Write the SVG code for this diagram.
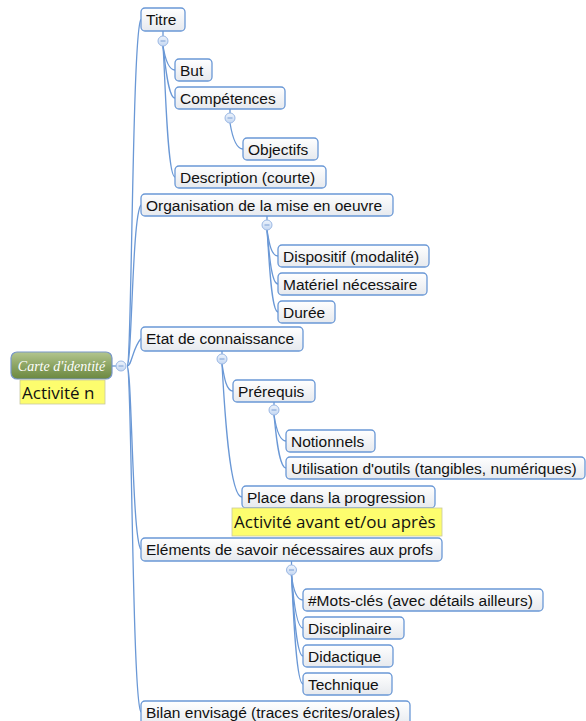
<svg xmlns="http://www.w3.org/2000/svg" width="586" height="721" viewBox="0 0 586 721">
<defs>
<linearGradient id="bg" x1="0" y1="0" x2="0" y2="1"><stop offset="0" stop-color="#ffffff"/><stop offset="1" stop-color="#e6e9ee"/></linearGradient>
<linearGradient id="gg" x1="0" y1="0" x2="0" y2="1"><stop offset="0" stop-color="#b3c68f"/><stop offset="0.5" stop-color="#8ca463"/><stop offset="1" stop-color="#6c8840"/></linearGradient>
<linearGradient id="cg" x1="0" y1="0" x2="0" y2="1"><stop offset="0" stop-color="#eef4fc"/><stop offset="1" stop-color="#c4d7f2"/></linearGradient>
</defs>
<style>
.n rect{fill:url(#bg);stroke:#6a98d6;stroke-width:1.3}
.n text{font-family:"Liberation Sans",Arial,sans-serif;font-size:15.5px;fill:#111}
.c{fill:none;stroke:#6a98d6;stroke-width:1.3}
.k circle{fill:url(#cg);stroke:#9bb8e4;stroke-width:1}
.k line{stroke:#7d9fd4;stroke-width:1}
.y rect{fill:#fdfd6e;stroke:#c9c9a0;stroke-width:0.8}
.y text{font-family:"Open Sans","Liberation Sans",sans-serif;font-size:17px;fill:#111}
</style>
<rect width="586" height="721" fill="#ffffff"/>
<g id="connectors">
<path class="c" d="M127,366 C132,366 132,30 141,19.5"/>
<path class="c" d="M127,366 C132,366 132,215 141,205"/>
<path class="c" d="M127,366 C132,366 132,349 141,338.5"/>
<path class="c" d="M127,366 C132,366 132,540 141,549.5"/>
<path class="c" d="M127,366 C132,366 132,702 141,712"/>
<line class="c" x1="163" y1="31" x2="163" y2="36"/>
<path class="c" d="M163,46 C165,58 168,70 175,70"/>
<path class="c" d="M163,46 C165,62 168,98 175,98"/>
<path class="c" d="M163,46 C165,70 167,177 175,177"/>
<line class="c" x1="230" y1="109" x2="230" y2="113"/>
<path class="c" d="M230,123 C232,135 236,149 243,149"/>
<line class="c" x1="267" y1="216" x2="267" y2="220"/>
<path class="c" d="M267,230 C269,242 271,256 278,256"/>
<path class="c" d="M267,230 C269,250 271,284 278,284"/>
<path class="c" d="M267,230 C269,255 271,312 278,312"/>
<line class="c" x1="222" y1="351" x2="222" y2="354"/>
<path class="c" d="M222,364 C224,376 226,391 233,391"/>
<path class="c" d="M222,364 C224,400 229,497 242,497"/>
<line class="c" x1="274" y1="402" x2="274" y2="405"/>
<path class="c" d="M274,415 C276,428 279,441 286,441"/>
<path class="c" d="M274,415 C276,435 279,468 286,468"/>
<line class="c" x1="291.5" y1="561" x2="291.5" y2="565"/>
<path class="c" d="M291.5,575 C293,588 296,600 303,600"/>
<path class="c" d="M291.5,575 C293,595 296,628 303,628"/>
<path class="c" d="M291.5,575 C293,600 296,656 303,656"/>
<path class="c" d="M291.5,575 C293,605 296,684 303,684"/>
<line class="c" x1="112" y1="366" x2="117" y2="366"/>
</g>
<g id="root">
<rect x="11" y="352" width="101" height="27" rx="6" fill="url(#gg)" stroke="#7896c8" stroke-width="1.2"/>
<text x="61.5" y="370.5" text-anchor="middle" font-family="'Liberation Serif','DejaVu Serif',serif" font-style="italic" font-size="14" fill="#ffffff">Carte d'identité</text>
</g>
<g id="root-label" class="y">
<rect x="20" y="380" width="85" height="24"/>
<text x="22" y="398.5">Activité n</text>
</g>
<g id="n-titre" class="n"><rect x="141" y="8" width="44" height="23" rx="4"/><text x="146" y="25">Titre</text></g>
<g id="n-but" class="n"><rect x="175" y="59" width="37" height="22" rx="4"/><text x="180" y="75.5">But</text></g>
<g id="n-competences" class="n"><rect x="175" y="87" width="110" height="22" rx="4"/><text x="180" y="103.5">Compétences</text></g>
<g id="n-objectifs" class="n"><rect x="243" y="138" width="75" height="22" rx="4"/><text x="248" y="154.5">Objectifs</text></g>
<g id="n-description" class="n"><rect x="175" y="166" width="151" height="22" rx="4"/><text x="180" y="182.5">Description (courte)</text></g>
<g id="n-organisation" class="n"><rect x="141" y="194" width="252" height="22" rx="4"/><text x="146" y="210.5">Organisation de la mise en oeuvre</text></g>
<g id="n-dispositif" class="n"><rect x="278" y="245" width="151" height="22" rx="4"/><text x="283" y="261.5">Dispositif (modalité)</text></g>
<g id="n-materiel" class="n"><rect x="278" y="273" width="149" height="22" rx="4"/><text x="283" y="289.5">Matériel nécessaire</text></g>
<g id="n-duree" class="n"><rect x="278" y="301" width="57" height="22" rx="4"/><text x="283" y="317.5">Durée</text></g>
<g id="n-etat" class="n"><rect x="141" y="327" width="162" height="24" rx="4"/><text x="146" y="344">Etat de connaissance</text></g>
<g id="n-prerequis" class="n"><rect x="233" y="380" width="82" height="22" rx="4"/><text x="238" y="396.5">Prérequis</text></g>
<g id="n-notionnels" class="n"><rect x="286" y="430" width="89" height="22" rx="4"/><text x="291" y="446.5">Notionnels</text></g>
<g id="n-utilisation" class="n"><rect x="286" y="457" width="299" height="22" rx="4"/><text x="291" y="473.5">Utilisation d'outils (tangibles, numériques)</text></g>
<g id="n-place" class="n"><rect x="242" y="486" width="193" height="22" rx="4"/><text x="247" y="502.5">Place dans la progression</text></g>
<g id="n-place-label" class="y"><rect x="232" y="508" width="210" height="28"/><text x="234" y="528">Activité avant et/ou après</text></g>
<g id="n-elements" class="n"><rect x="141" y="538" width="301" height="23" rx="4"/><text x="146" y="555">Eléments de savoir nécessaires aux profs</text></g>
<g id="n-motscles" class="n"><rect x="303" y="589" width="240" height="22" rx="4"/><text x="308" y="605.5">#Mots-clés (avec détails ailleurs)</text></g>
<g id="n-disciplinaire" class="n"><rect x="303" y="617" width="101" height="22" rx="4"/><text x="308" y="633.5">Disciplinaire</text></g>
<g id="n-didactique" class="n"><rect x="303" y="645" width="90" height="22" rx="4"/><text x="308" y="661.5">Didactique</text></g>
<g id="n-technique" class="n"><rect x="303" y="673" width="89" height="22" rx="4"/><text x="308" y="689.5">Technique</text></g>
<g id="n-bilan" class="n"><rect x="141" y="701" width="269" height="26" rx="4"/><text x="146" y="718">Bilan envisagé (traces écrites/orales)</text></g>
<g id="collapse" class="k">
<g><circle cx="121" cy="366" r="5"/><line x1="118.5" y1="366" x2="123.5" y2="366"/></g>
<g><circle cx="163" cy="41" r="5"/><line x1="160.5" y1="41" x2="165.5" y2="41"/></g>
<g><circle cx="230" cy="118" r="5"/><line x1="227.5" y1="118" x2="232.5" y2="118"/></g>
<g><circle cx="267" cy="225" r="5"/><line x1="264.5" y1="225" x2="269.5" y2="225"/></g>
<g><circle cx="222" cy="359" r="5"/><line x1="219.5" y1="359" x2="224.5" y2="359"/></g>
<g><circle cx="274" cy="410" r="5"/><line x1="271.5" y1="410" x2="276.5" y2="410"/></g>
<g><circle cx="291.5" cy="570" r="5"/><line x1="289" y1="570" x2="294" y2="570"/></g>
</g>
</svg>
